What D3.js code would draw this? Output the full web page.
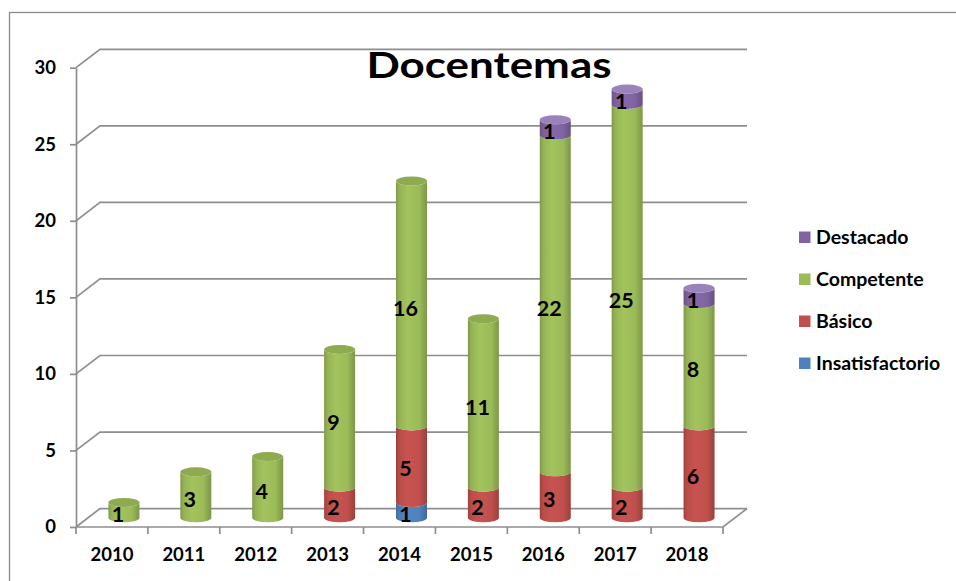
<!DOCTYPE html>
<html lang="es">
<head>
<meta charset="UTF-8">
<title>Docentemas</title>
<script src="https://cdn.jsdelivr.net/npm/d3@7"></script>
<style>
  body { margin: 0; background: #fff; }
  text { font-family: Lato, "Open Sans", sans-serif; font-weight: bold; fill: #000; }
</style>
</head>
<body>
<script>
    // datos
    const years = ['2010', '2011', '2012', '2013', '2014', '2015', '2016', '2017', '2018']
    const insatisfactorio = [0, 0, 0, 0, 1, 0, 0, 0, 0]
    const basico = [0, 0, 0, 2, 5, 2, 3, 2, 6]
    const competente = [1, 3, 4, 9, 16, 11, 22, 25, 8]
    const destacado = [0, 0, 0, 0, 0, 0, 1, 1, 1]
    const yTicks = [0, 5, 10, 15, 20, 25, 30]

    const series = [
        {name: 'Insatisfactorio', values: insatisfactorio, color: '#4F81BD', cap: '#5b8cc6'},
        {name: 'Básico', values: basico, color: '#C0504D', cap: '#c95f5c'},
        {name: 'Competente', values: competente, color: '#9BBB59', cap: '#8eab50'},
        {name: 'Destacado', values: destacado, color: '#8064A2', cap: '#9a82ba'}
    ]

    const [width, height] = [956, 581]
    const depth = {dx: 24, dy: -18.4}
    const rx = 15.5, ry = 4.5

    const svg = d3.select('body').append('svg')
        .attr('width', width)
        .attr('height', height)

    const x = d3.scaleBand().domain(years).range([76, 723])
    const y = d3.scaleLinear().domain([0, 30]).range([527, 67.7])

    // borde del grafico
    svg.append('rect')
        .attr('x', 9.5).attr('y', 12.5)
        .attr('width', 1000).attr('height', 1000)
        .attr('fill', 'none').attr('stroke', '#8a8a8a').attr('stroke-width', 1.3)

    // gradientes de cilindros
    const defs = svg.append('defs')
    series.forEach((s, i) => {
        const c = d3.color(s.color)
        const g = defs.append('linearGradient').attr('id', 'grad' + i)
            .attr('x1', '0%').attr('x2', '100%').attr('y1', '0%').attr('y2', '0%')
        g.append('stop').attr('offset', '0%').attr('stop-color', c.darker(0.55))
        g.append('stop').attr('offset', '12%').attr('stop-color', c.darker(0.1))
        g.append('stop').attr('offset', '38%').attr('stop-color', c.brighter(0.12))
        g.append('stop').attr('offset', '75%').attr('stop-color', c)
        g.append('stop').attr('offset', '100%').attr('stop-color', c.darker(0.6))
    })

    // rejilla (pared de fondo)
    const grid = svg.append('g').attr('stroke', '#8e8e8e').attr('stroke-width', 1.7).attr('fill', 'none')
    yTicks.forEach(v => {
        const yy = y(v)
        grid.append('path')
            .attr('d', `M${x.range()[0]},${yy} L${x.range()[0] + depth.dx},${yy + depth.dy} L${x.range()[1] + depth.dx},${yy + depth.dy}`)
    })
    // suelo
    grid.append('path')
        .attr('d', `M${x.range()[0]},${y(0)} L${x.range()[1]},${y(0)} L${x.range()[1] + depth.dx},${y(0) + depth.dy}`)

    // eje Y
    const yAxis = svg.append('g')
        .attr('transform', `translate(${x.range()[0]},0)`)
        .call(d3.axisLeft(y).tickValues(yTicks).tickSize(6).tickSizeOuter(0).tickPadding(14))
    yAxis.select('.domain').attr('stroke', '#8e8e8e').attr('stroke-width', 1.7)
    yAxis.selectAll('.tick line').attr('stroke', '#8e8e8e').attr('stroke-width', 1.7)
    yAxis.selectAll('.tick text').attr('font-size', 18.5).attr('font-family', 'Lato').attr('font-weight', 'bold')

    // eje X
    const xAxis = svg.append('g')
        .attr('transform', `translate(0,${y(0)})`)
        .call(d3.axisBottom(x).tickSize(0).tickPadding(21))
    xAxis.select('.domain').remove()
    xAxis.selectAll('.tick text').attr('font-size', 18.5).attr('font-family', 'Lato').attr('font-weight', 'bold')
    const bounds = years.map(d => x(d)).concat([x.range()[1]])
    svg.append('g').selectAll('line').data(bounds).enter().append('line')
        .attr('x1', d => d).attr('x2', d => d)
        .attr('y1', y(0)).attr('y2', y(0) + 7)
        .attr('stroke', '#8e8e8e').attr('stroke-width', 1.7)

    // cilindros apilados
    const stackData = years.map((yr, i) => {
        let base = 0
        const segs = []
        series.forEach((s, si) => {
            const v = s.values[i]
            if (v > 0) segs.push({year: yr, si, v0: base, v1: base + v, v})
            base += v
        })
        return {year: yr, segs, total: base}
    })

    const bars = svg.append('g')
    stackData.forEach(d => {
        const cx = x(d.year) + x.bandwidth() / 2 + depth.dx / 2
        const off = depth.dy / 2
        const xl = cx - rx, xr = cx + rx
        d.segs.forEach(s => {
            const yB = y(s.v0) + off, yT = y(s.v1) + off
            bars.append('path')
                .attr('d', `M${xl},${yT} L${xl},${yB} A${rx},${ry} 0 0 0 ${xr},${yB} L${xr},${yT} A${rx},${ry} 0 0 1 ${xl},${yT} Z`)
                .attr('fill', `url(#grad${s.si})`)
        })
        const top = d.segs[d.segs.length - 1]
        bars.append('ellipse')
            .attr('cx', cx).attr('cy', y(top.v1) + off)
            .attr('rx', rx).attr('ry', ry)
            .attr('fill', series[top.si].cap)
    })

    // etiquetas de datos
    const labels = svg.append('g')
    stackData.forEach(d => {
        const lx = x(d.year) + x.bandwidth() / 2 + depth.dx / 4
        d.segs.forEach(s => {
            labels.append('text')
                .attr('x', lx)
                .attr('y', y((s.v0 + s.v1) / 2) + depth.dy / 4 + 7.5)
                .attr('text-anchor', 'middle')
                .attr('font-size', 21.5)
                .attr('font-weight', 900)
                .text(s.v)
        })
    })

    // titulo
    svg.append('text')
        .attr('x', 489).attr('y', 77.5)
        .attr('text-anchor', 'middle')
        .attr('font-size', 37)
        .attr('font-weight', 900)
        .attr('textLength', 245).attr('lengthAdjust', 'spacingAndGlyphs')
        .text('Docentemas')

    // leyenda
    const legend = svg.append('g')
        .selectAll('g').data(series.slice().reverse()).enter().append('g')
        .attr('transform', (d, i) => `translate(799,${237 + i * 42})`)
    legend.append('rect')
        .attr('x', 0).attr('y', -5.5).attr('width', 11.5).attr('height', 11.5)
        .attr('fill', d => d.color)
    legend.append('text')
        .attr('x', 17).attr('y', 7)
        .attr('font-size', 19.5)
        .text(d => d.name)
</script>
</body>
</html>
